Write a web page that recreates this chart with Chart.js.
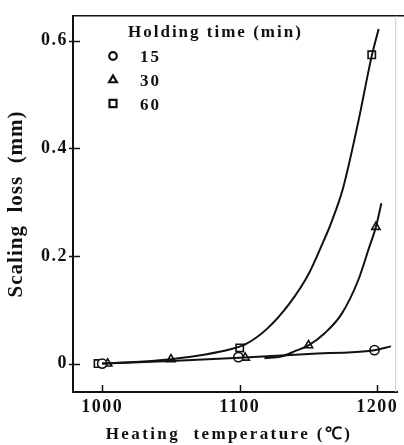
<!DOCTYPE html>
<html>
<head>
<meta charset="utf-8">
<script src="https://cdn.jsdelivr.net/npm/chart.js@4/dist/chart.umd.min.js"></script>
<style>
  html, body { margin: 0; padding: 0; background: #fff; }
  #wrap { width: 404px; height: 445px; }
</style>
</head>
<body>
<div id="wrap"><canvas id="scaleChart" width="404" height="445"></canvas></div>
<script>
// ---- data ----
const xTickVals = [1000, 1100, 1200];
const yTickVals = [0, 0.2, 0.4, 0.6];

// measured points (markers)
const temp15 = [1000, 1099, 1198];
const loss15 = [0, 0.012, 0.025];
const temp30 = [1004, 1050, 1104, 1150, 1199];
const loss30 = [0, 0.008, 0.011, 0.034, 0.254];
const temp60 = [997, 1100, 1196];
const loss60 = [0, 0.029, 0.574];

// hand-drawn trend curves
const curve15T = [1000, 1050, 1100, 1150, 1198, 1210];
const curve15L = [0, 0.005, 0.011, 0.018, 0.025, 0.032];
const curve30T = [1118, 1130, 1141, 1150, 1162, 1174, 1186, 1194, 1199, 1203];
const curve30L = [0.010, 0.013, 0.024, 0.034, 0.057, 0.092, 0.154, 0.215, 0.254, 0.298];
const curve60T = [1000, 1050, 1094, 1105, 1120, 1136, 1150, 1160, 1167, 1175, 1186, 1196, 1201];
const curve60L = [0, 0.008, 0.027, 0.037, 0.065, 0.111, 0.166, 0.222, 0.265, 0.325, 0.447, 0.572, 0.622];

const legendTitle = "Holding time (min)";
const legendLabels = ["15", "30", "60"];
const legendStyles = ["circle", "triangle", "rect"];
const xTitle = "Heating  temperature (\u2103)";
const yTitle = "Scaling  loss  (mm)";

const SERIF = "'Liberation Serif', 'Times New Roman', serif";

function pts(xs, ys) {
  return xs.map((x, i) => ({ x: x, y: ys[i] }));
}

function curve(xs, ys) {
  return {
    data: pts(xs, ys),
    showLine: true,
    borderColor: "#111",
    borderWidth: 2,
    pointRadius: 0,
    cubicInterpolationMode: "monotone",
    fill: false
  };
}

function marks(xs, ys, style, r) {
  return {
    data: pts(xs, ys),
    showLine: false,
    pointStyle: style,
    pointRadius: r,
    pointBackgroundColor: "#fff",
    pointBorderColor: "#111",
    pointBorderWidth: 1.6
  };
}

// text, borders, inner ticks and legend drawn on top
const decoPlugin = {
  id: "deco",
  beforeDraw(chart) {
    chart.ctx.letterSpacing = "1.5px";
  },
  afterDraw(chart) {
    const ctx = chart.ctx;
    const area = chart.chartArea;
    const xs = chart.scales.x;
    const ys = chart.scales.y;
    ctx.save();
    ctx.strokeStyle = "#111";
    ctx.fillStyle = "#111";

    // top frame line and faint right edge
    ctx.lineWidth = 1.5;
    ctx.beginPath();
    ctx.moveTo(area.left, area.top);
    ctx.lineTo(404, area.top);
    ctx.stroke();
    ctx.strokeStyle = "#ccc";
    ctx.lineWidth = 1;
    ctx.beginPath();
    ctx.moveTo(area.right - 1.5, area.top);
    ctx.lineTo(area.right - 1.5, area.bottom);
    ctx.stroke();

    // inward tick marks
    ctx.strokeStyle = "#111";
    ctx.lineWidth = 1.5;
    xTickVals.forEach(v => {
      const px = Math.round(xs.getPixelForValue(v)) + 0.5;
      ctx.beginPath();
      ctx.moveTo(px, area.bottom);
      ctx.lineTo(px, area.bottom - 7);
      ctx.stroke();
    });
    yTickVals.forEach(v => {
      const py = Math.round(ys.getPixelForValue(v)) + 0.5;
      ctx.beginPath();
      ctx.moveTo(area.left - 4, py);
      ctx.lineTo(area.left + 7, py);
      ctx.stroke();
    });

    // axis titles
    ctx.font = "bold 17px " + SERIF;
    ctx.letterSpacing = "2.4px";
    ctx.textAlign = "center";
    ctx.textBaseline = "alphabetic";
    ctx.fillText(xTitle, 229, 439);

    ctx.save();
    ctx.font = "bold 21px " + SERIF;
    ctx.letterSpacing = "1px";
    ctx.translate(22, (area.top + area.bottom) / 2);
    ctx.rotate(-Math.PI / 2);
    ctx.fillText(yTitle, 0, 0);
    ctx.restore();

    // legend
    ctx.font = "bold 17px " + SERIF;
    ctx.letterSpacing = "2px";
    ctx.textAlign = "left";
    ctx.fillText(legendTitle, 128, 37);
    const rowY = [56, 80, 103.5];
    const rowR = [3.8, 4.5, 5];
    legendLabels.forEach((lab, i) => {
      ctx.fillStyle = "#111";
      ctx.fillText(lab, 140, rowY[i] + 6);
      ctx.fillStyle = "#fff";
      ctx.strokeStyle = "#111";
      ctx.lineWidth = 2.2;
      Chart.helpers.drawPoint(ctx, {
        pointStyle: legendStyles[i],
        radius: rowR[i],
        borderWidth: 2.2,
        rotation: 0
      }, 113, rowY[i]);
    });
    ctx.restore();
  }
};

const ctxScale = document.getElementById("scaleChart").getContext("2d");
new Chart(ctxScale, {
  type: "scatter",
  data: {
    datasets: [
      curve(curve15T, curve15L),
      curve(curve30T, curve30L),
      curve(curve60T, curve60L),
      marks(temp15, loss15, "circle", 4.6),
      marks(temp30, loss30, "triangle", 4.8),
      marks(temp60, loss60, "rect", 5.2)
    ]
  },
  options: {
    responsive: false,
    animation: false,
    events: [],
    layout: { padding: { top: 13, right: 1, left: 0, bottom: 0 } },
    plugins: {
      legend: { display: false },
      tooltip: { enabled: false }
    },
    scales: {
      x: {
        type: "linear",
        min: 978.8,
        max: 1214.5,
        afterFit: s => { s.height = 53; },
        afterBuildTicks: s => { s.ticks = xTickVals.map(v => ({ value: v })); },
        grid: { display: false, drawTicks: false },
        border: { display: true, color: "#111", width: 2 },
        ticks: {
          color: "#111",
          padding: 5,
          font: { family: SERIF, size: 18, weight: "bold" },
          callback: v => String(v)
        }
      },
      y: {
        type: "linear",
        min: -0.0528,
        max: 0.6465,
        afterFit: s => { s.width = 73; },
        afterBuildTicks: s => { s.ticks = yTickVals.map(v => ({ value: v })); },
        grid: { display: false, drawTicks: false },
        border: { display: true, color: "#111", width: 2 },
        ticks: {
          color: "#111",
          padding: 5,
          font: { family: SERIF, size: 18, weight: "bold" },
          callback: v => (v === 0 ? "0" : v.toFixed(1))
        }
      }
    }
  },
  plugins: [decoPlugin]
});
</script>
</body>
</html>
